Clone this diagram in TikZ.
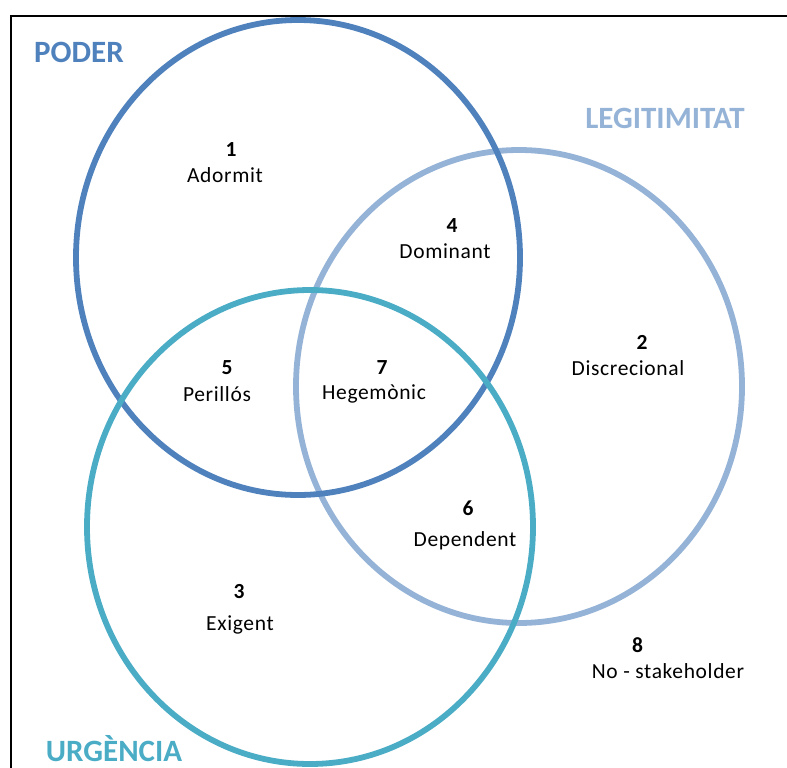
\documentclass[tikz,border=0pt]{standalone}
\usepackage{fontspec}
\setmainfont{Carlito}
\definecolor{poderblue}{HTML}{4F81BD}
\definecolor{legblue}{HTML}{95B3D7}
\definecolor{urgteal}{HTML}{4BACC6}
\tikzset{
  setring/.style={line width=5.8pt},
  settitle/.style={font=\fontsize{31}{36}\selectfont\bfseries, inner sep=0pt},
  regnum/.style={font=\fontsize{21.5}{25}\selectfont\bfseries, inner sep=0pt},
  regname/.style={font=\fontsize{21.5}{25}\selectfont\addfontfeatures{LetterSpace=3}, inner sep=0pt},
}
\begin{document}
\begin{tikzpicture}[x=1pt,y=-1pt]
\useasboundingbox (0,0) rectangle (787,768);
% frame (only its top and left edges fall inside the page)
\coordinate (fbl) at (11,768);
\coordinate (ftl) at (11,16);
\coordinate (ftr) at (787,16);
\draw[line width=2pt] (fbl) -- (ftl) -- (ftr);

% the three attribute sets
\draw[setring, legblue] (519,386.5) ellipse [x radius=223, y radius=236.5];
\draw[setring, poderblue] (298,257.5) ellipse [x radius=222, y radius=237.5];
\draw[setring, urgteal] (310,527) ellipse [x radius=223, y radius=237];

% set titles
\node[settitle, text=poderblue] (tpoder) at (79,52) {PODER};
\node[settitle, text=legblue] (tleg) at (665,118.5) {LEGITIMITAT};
\node[settitle, text=urgteal] (turg) at (114,748.5) {URGÈNCIA};

% region labels
\node[regnum] (n1) at (231,150) {1};
\node[regname] (l1) at (225,175) {Adormit};
\node[regnum] (n4) at (452,226) {4};
\node[regname] (l4) at (445,251) {Dominant};
\node[regnum] (n2) at (642,342) {2};
\node[regname] (l2) at (628,368) {Discrecional};
\node[regnum] (n5) at (227,368) {5};
\node[regname] (l5) at (217,394) {Perillós};
\node[regnum] (n7) at (382,368) {7};
\node[regname] (l7) at (374,394) {Hegemònic};
\node[regnum] (n6) at (468,508) {6};
\node[regname] (l6) at (465,541) {Dependent};
\node[regnum] (n3) at (239,592) {3};
\node[regname] (l3) at (240,625) {Exigent};
\node[regnum] (n8) at (637.5,645) {8};
\node[regname] (l8) at (668,671) {No - stakeholder};
\end{tikzpicture}
\end{document}
